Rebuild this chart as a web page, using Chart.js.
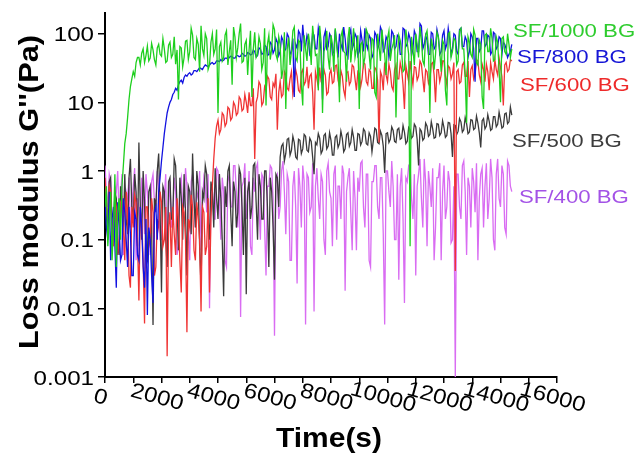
<!DOCTYPE html>
<html><head><meta charset="utf-8">
<script src="https://cdn.jsdelivr.net/npm/chart.js@4/dist/chart.umd.min.js"></script>
<style>html,body{margin:0;padding:0;background:#fff;}canvas{display:block;}</style>
</head><body>
<canvas id="c" width="638" height="455"></canvas>
<script>
// time (s)
const TIME = [
0,50,100,150,200,250,300,350,400,450,500,550,600,650,700,750,800,850,900,950,
1000,1050,1100,1150,1200,1250,1300,1350,1400,1450,1500,1550,1600,1650,1700,1750,1800,1850,1900,1950,
2000,2050,2100,2150,2200,2250,2300,2350,2400,2450,2500,2550,2600,2650,2700,2750,2800,2850,2900,2950,
3000,3050,3100,3150,3200,3250,3300,3350,3400,3450,3500,3550,3600,3650,3700,3750,3800,3850,3900,3950,
4000,4050,4100,4150,4200,4250,4300,4350,4400,4450,4500,4550,4600,4650,4700,4750,4800,4850,4900,4950,
5000,5050,5100,5150,5200,5250,5300,5350,5400,5450,5500,5550,5600,5650,5700,5750,5800,5850,5900,5950,
6000,6050,6100,6150,6200,6250,6300,6350,6400,6450,6500,6550,6600,6650,6700,6750,6800,6850,6900,6950,
7000,7050,7100,7150,7200,7250,7300,7350,7400,7450,7500,7550,7600,7650,7700,7750,7800,7850,7900,7950,
8000,8050,8100,8150,8200,8250,8300,8350,8400,8450,8500,8550,8600,8650,8700,8750,8800,8850,8900,8950,
9000,9050,9100,9150,9200,9250,9300,9350,9400,9450,9500,9550,9600,9650,9700,9750,9800,9850,9900,9950,
10000,10050,10100,10150,10200,10250,10300,10350,10400,10450,10500,10550,10600,10650,10700,10750,10800,10850,10900,10950,
11000,11050,11100,11150,11200,11250,11300,11350,11400,11450,11500,11550,11600,11650,11700,11750,11800,11850,11900,11950,
12000,12050,12100,12150,12200,12250,12300,12350,12400,12450,12500,12550,12600,12650,12700,12750,12800,12850,12900,12950,
13000,13050,13100,13150,13200,13250,13300,13350,13400,13450,13500,13550,13600,13650,13700,13750,13800,13850,13900,13950,
14000,14050,14100,14150,14200,14250,14300,14350,14400];

const SF1000 = [
0.3,0.6,0.08,0.2,0.5,0.05,0.15,0.9,0.04,0.25,0.4,0.1,0.6,1.2,2.5,3.5,6,11,17,22,
28,24,38,45,45,35,52,60,38,48,66,40,44,72,58,42,35,62,70,50,
47,85,60,38,40,68,75,45,50,90,36,58,11,65,62,33,45,78,80,42,
55,120,95,45,42,85,70,28,130,60,48,100,85,30,35,75,100,50,60,115,
7,65,75,40,45,95,110,35,55,80,18,125,90,45,62,100,140,38,40,70,
80,25,58,110,12,60,105,45,50,90,72,30,38,120,9,70,95,42,60,135,
115,50,42,90,70,22,30,105,8,60,88,35,55,110,125,45,40,80,75,18,
9,95,60,40,100,70,35,130,80,48,50,15,130,75,7,55,65,110,45,30,
95,70,28,120,70,42,10,90,110,55,52,20,85,125,38,65,120,45,60,95,
8,70,75,35,45,115,100,50,30,85,80,14,12,100,65,40,115,75,50,25,
85,110,40,60,70,95,6,45,95,80,55,28,30,115,75,50,0.08,90,60,35,
100,70,45,125,80,40,35,95,110,60,7,85,65,30,50,105,90,55,28,80,
70,15,9,100,105,45,55,85,80,35,40,110,120,60,60,25,5,90,75,50,
45,115,95,38,35,80,70,12,8,95,100,55,55,120,85,40,42,90,75,30,
10,85,90,55,50,100,70,45,60];

const SF800 = [
0.4,0.15,0.1,0.5,0.05,0.2,0.3,0.08,0.02,0.35,0.15,0.05,0.06,0.4,0.25,0.1,0.04,0.3,0.12,0.03,
0.03,0.25,0.2,0.06,0.05,0.3,0.15,0.04,0.02,0.2,0.008,0.15,0.1,0.03,0.012,0.25,0.3,0.1,0.5,0.8,
1.4,2.2,3.5,5,7,8.5,10,11,13,14,16,15,18,20,21,19,23,25,24,26,
27,25,26,29,29,28,30,32,31,30,33,35,34,33,35,37,38,36,37,40,
40,39,42,40,41,44,44,42,45,47,46,44,44,48,48,46,47,52,50,47,
48,53,52,49,50,58,55,46,48,62,60,50,52,68,65,48,50,75,70,52,
58,85,75,48,55,90,80,55,60,100,90,50,55,85,12,70,62,110,100,55,
135,75,65,95,80,50,55,105,95,60,60,120,85,55,11,90,110,60,65,100,
90,50,55,115,75,45,100,70,60,125,85,50,45,95,115,60,70,100,90,48,
55,110,80,55,120,70,60,95,85,45,50,105,95,60,70,125,110,55,60,90,
80,45,55,110,100,60,65,95,90,50,50,120,115,65,70,100,85,48,60,110,
95,55,55,140,130,60,70,95,80,50,50,105,100,60,65,115,90,50,55,95,
110,60,70,120,85,50,60,100,95,55,50,115,120,65,65,90,80,45,55,100,
90,60,20,85,85,55,60,110,110,65,70,95,90,50,55,105,100,60,65,90,
85,50,75,70,60,45,50,55,70];

const SF600 = [
0.8,0.3,0.2,0.6,0.5,0.12,0.08,0.4,0.3,0.06,0.1,0.35,0.4,0.15,0.05,0.5,0.25,0.03,0.02,0.3,
0.15,0.45,0.35,0.1,0.013,0.25,0.2,0.05,0.006,0.3,0.3,0.1,0.08,0.4,0.25,0.03,0.04,0.2,0.15,0.5,
0.35,0.08,0.1,0.3,0.002,0.15,0.25,0.04,0.3,0.12,0.06,0.4,0.2,0.05,0.017,0.3,0.25,0.1,0.0045,0.2,
0.15,0.45,0.3,0.07,0.05,0.35,0.2,0.1,0.009,0.3,0.25,0.06,0.08,0.4,0.017,0.2,0.6,1.5,3,4.5,
5.5,3.5,4,7,6.5,4.5,5,8.5,8,5.5,6,10,9,6.5,7,12,11,7.5,8,13,
10,7,14,9,9,16,1.5,10,12,20,18,9,10,17,15,24,22,12,11,19,
17,26,4,14,20,12,13,28,25,16,15,22,28,13,18,30,24,15,14,27,
30,18,20,33,16,24,26,14,4,28,22,17,32,20,18,30,25,13,14,26,
30,19,20,34,35,21,17,29,24,15,12,27,28,18,20,35,33,22,15,28,
26,17,22,38,36,20,18,30,28,16,16,32,30,21,2.6,28,24,15,38,25,
20,36,28,17,15,30,35,22,22,38,30,18,8,34,26,20,40,26,18,33,
32,21,24,40,36,22,14,30,28,19,22,36,38,25,10,30,30,20,25,40,
40,24,18,34,32,22,26,38,0.035,28,30,19,20,35,38,24,24,40,12,30,
34,22,26,42,40,25,20,36,30,20,36,28,15,38,28,22,42,30,25,44,
32,24,9,35,38,28,30,42,40];

const SF500 = [
0.5,0.2,0.15,0.7,0.8,0.1,0.1,0.5,0.4,0.08,0.06,0.6,0.3,0.12,0.9,0.2,0.12,0.8,1.5,0.3,
0.2,0.9,0.5,0.08,2.6,0.3,0.1,1.0,0.35,0.06,0.05,0.5,0.6,0.15,0.0057,0.4,0.3,1.0,1.8,0.25,
0.017,0.6,0.5,0.1,0.04,0.7,0.8,0.2,0.2,1.5,1.2,0.3,0.07,0.8,0.4,0.1,0.9,0.25,0.03,0.6,
0.5,0.12,1.8,0.4,0.15,1.0,0.6,0.08,0.02,0.5,0.4,1.2,0.9,0.2,0.1,0.7,0.5,0.15,1.1,0.4,
0.2,0.9,0.4,0.1,0.015,0.6,0.3,1.0,1.2,0.25,0.08,0.7,0.5,0.15,0.25,1.1,0.9,0.3,0.06,0.8,
0.016,0.5,0.7,0.2,0.3,1.2,1.3,0.35,0.1,0.9,0.6,0.2,0.2,1.0,1.0,0.3,0.04,0.8,0.5,0.15,
0.026,0.9,0.8,0.3,1.6,2.3,2.5,1.4,1.8,2.9,3,1.7,2,3.2,2.6,1.6,1.5,2.9,2.8,1.8,
2.1,3.4,3.2,2.0,1.9,3.0,2.7,1.6,0.9,2.6,2.4,3.5,3.0,1.8,2.0,3.3,3.5,2.1,2.3,3.6,
2.8,1.7,1.7,3.1,3.3,2.2,2.5,3.8,3.0,1.9,2.1,3.4,3.6,2.3,2.6,4.0,3.1,2.0,2.0,3.5,
3.4,2.4,2.7,4.1,3.8,2.5,2.4,3.6,3.2,1.9,2.8,4.2,4.0,2.6,2.5,3.8,3.3,2.3,0.94,3.5,
3.6,2.6,2.9,4.4,3.9,2.7,2.6,4.0,4.2,2.9,3.0,4.6,3.7,2.5,2.7,4.3,4.0,3.0,3.2,4.8,
4.4,2.9,1.2,4.1,3.8,2.8,3.0,5.0,4.5,3.2,3.4,5.2,4.1,3.0,3.1,4.9,4.8,3.3,3.6,5.4,
4.3,3.1,3.3,5.1,5.0,3.5,1.6,4.7,4.6,3.4,3.8,5.8,5.2,3.7,4.0,6.0,4.9,3.5,3.7,5.6,
5.5,4.0,4.2,6.3,5.0,3.6,2.2,5.4,5.8,4.1,4.5,6.6,5.3,3.9,4.1,6.2,6.2,4.4,4.8,7.2,
5.6,4.2,4.4,6.8,7.0,4.9,5.2,8.5,6.5];

const SF400 = [
1.2,0.5,0.3,0.9,0.7,0.2,0.1,0.6,0.5,1.0,0.2,0.4,0.9,0.06,0.08,0.5,0.4,0.8,0.15,0.3,
0.6,1.1,0.05,0.4,0.3,0.15,0.8,0.5,0.12,0.9,0.5,0.2,0.06,0.7,0.9,0.35,0.25,1.0,0.6,0.1,
0.1,0.5,0.4,0.9,0.04,0.3,0.7,0.15,0.2,0.8,0.5,0.06,0.08,0.6,0.8,0.3,0.3,1.1,0.6,0.12,
0.05,0.7,0.9,0.4,0.15,0.5,0.4,1.0,0.07,0.3,0.8,0.6,0.25,0.9,0.01,0.5,0.6,0.2,0.2,1.1,
1.0,0.4,0.1,0.8,0.5,0.05,0.04,0.7,0.9,0.3,0.3,1.2,1.2,0.5,0.15,0.9,0.0075,0.6,0.7,1.3,
0.2,0.4,1.0,0.08,0.06,0.8,0.5,1.1,1.3,0.3,0.1,0.9,0.8,0.15,0.03,0.6,0.6,1.2,1.1,0.4,
0.004,0.8,0.9,0.2,0.3,1.0,1.4,0.5,0.12,0.9,0.7,0.05,0.05,0.6,1.0,0.3,0.023,1.1,0.6,0.15,
1.2,0.7,0.0058,0.9,0.8,0.25,0.3,1.3,0.009,0.6,1.1,0.4,0.2,0.9,0.7,0.1,0.06,1.0,1.3,0.5,
0.4,0.08,0.9,1.2,0.1,0.6,0.6,0.2,1.2,0.9,0.018,0.5,0.8,1.1,0.25,0.07,1.0,0.4,0.07,0.8,
0.5,1.3,1.4,0.3,0.15,0.9,0.9,0.05,0.04,0.7,0.7,1.2,1.2,0.3,0.2,0.8,0.8,0.12,0.0058,1.0,
1.0,0.5,0.3,1.4,0.6,0.1,0.1,0.9,0.026,0.6,1.1,0.2,0.012,0.8,0.7,1.2,1.3,0.4,0.2,0.9,
0.03,0.6,0.9,1.5,0.4,0.15,1.5,0.7,0.08,1.0,0.6,0.3,1.1,0.05,0.15,0.8,0.8,1.3,0.05,0.5,
1.2,0.2,0.3,1.0,0.7,0.09,0.1,0.6,0.001,0.9,0.9,0.3,0.2,1.2,1.4,0.5,0.06,0.8,0.6,0.15,
1.1,0.7,0.25,1.3,0.05,0.4,0.9,1.1,0.15,0.6,1.3,0.2,0.4,1.5,0.8,0.1,0.07,0.9,1.5,0.4,
0.3,1.2,0.9,0.15,0.12,1.4,1.2,0.6,0.5];

const SERIES_NAMES = ['SF/1000 BG','SF/800 BG','SF/600 BG','SF/500 BG','SF/400 BG'];
const Y_TICKS = [0.001,0.01,0.1,1,10,100];
const Y_TICK_LABELS = ['0.001','0.01','0.1','1','10','100'];
const X_TICKS = [0,2000,4000,6000,8000,10000,12000,14000,16000];
const X_TICK_LABELS = ['0','2000','4000','6000','8000','10000','12000','14000','16000'];

const LINE_COLORS = ['#1ecf1e','#1212e0','#f03434','#3a3a3a','#d96cf2'];
const TEXT_COLORS = ['#2ecc2e','#1616d6','#ee2a2a','#3c3c3c','#a352e6'];
const VALUES = [SF1000, SF800, SF600, SF500, SF400];

const datasets = VALUES.map((arr, k) => ({
  label: SERIES_NAMES[k],
  data: TIME.map((t, i) => ({x: t, y: arr[i]})),
  borderColor: LINE_COLORS[k],
  borderWidth: 1.3,
  pointRadius: 0,
  fill: false,
  tension: 0
}));

const FONT = '"Liberation Sans", Arial, sans-serif';

const textPlugin = {
  id: 'textPlugin',
  afterDraw(chart) {
    const ctx = chart.ctx;
    const xs = chart.scales.x, ys = chart.scales.y;
    ctx.save();
    ctx.fillStyle = '#000';
    ctx.font = '21px ' + FONT;
    Y_TICKS.forEach((v, i) => {
      const py = ys.getPixelForValue(v);
      ctx.save();
      ctx.translate(94, py + 7.5);
      ctx.scale(1.15, 1);
      ctx.textAlign = 'right';
      ctx.textBaseline = 'alphabetic';
      ctx.fillText(Y_TICK_LABELS[i], 0, 0);
      ctx.restore();
    });
    X_TICKS.forEach((v, i) => {
      const px = xs.getPixelForValue(v);
      ctx.save();
      ctx.translate(px - 4, 396);
      ctx.rotate(15 * Math.PI / 180);
      ctx.scale(1.15, 1);
      ctx.textAlign = 'center';
      ctx.textBaseline = 'alphabetic';
      ctx.fillText(X_TICK_LABELS[i], 0, 7.5);
      ctx.restore();
    });
    ctx.font = 'bold 28px ' + FONT;
    ctx.save();
    ctx.translate(329, 447);
    ctx.scale(1.07, 1);
    ctx.textAlign = 'center';
    ctx.fillText('Time(s)', 0, 0);
    ctx.restore();
    ctx.save();
    ctx.translate(38, 192);
    ctx.rotate(-Math.PI / 2);
    ctx.scale(1.1, 1);
    ctx.textAlign = 'center';
    ctx.fillText("Loss modulus G''(Pa)", 0, 0);
    ctx.restore();
    const LX = [513, 517, 520, 512, 519];
    const LY = [36.5, 63, 90.5, 146.5, 202.5];
    ctx.font = '18.5px ' + FONT;
    SERIES_NAMES.forEach((n, k) => {
      ctx.save();
      ctx.translate(LX[k], LY[k]);
      ctx.scale(1.2, 1);
      ctx.fillStyle = TEXT_COLORS[k];
      ctx.textAlign = 'left';
      ctx.fillText(n, 0, 0);
      ctx.restore();
    });
    ctx.restore();
  }
};

new Chart(document.getElementById('c'), {
  type: 'line',
  data: { datasets },
  options: {
    responsive: false,
    animation: false,
    devicePixelRatio: 1,
    layout: { padding: { top: 13, right: 81, left: 0, bottom: 0 } },
    plugins: { legend: { display: false }, tooltip: { enabled: false } },
    scales: {
      x: {
        type: 'linear', min: 0, max: 16000,
        ticks: { display: false, stepSize: 1000 },
        afterBuildTicks: s => { const t = []; for (let v = 0; v <= 16000; v += 1000) t.push({value: v}); s.ticks = t; },
        grid: { display: true, drawOnChartArea: false, drawTicks: true, tickLength: 6, color: '#000', lineWidth: 1.5 },
        border: { display: true, color: '#000', width: 2 },
        afterFit: s => { s.height = 78; }
      },
      y: {
        type: 'logarithmic', min: 0.001, max: 200,
        ticks: { display: false },
        afterBuildTicks: s => { s.ticks = Y_TICKS.map(v => ({value: v})); },
        grid: { display: true, drawOnChartArea: false, drawTicks: true, tickLength: 7, color: '#000', lineWidth: 1.5 },
        border: { display: true, color: '#000', width: 2 },
        afterFit: s => { s.width = 105; }
      }
    }
  },
  plugins: [textPlugin]
});
</script>
</body></html>
